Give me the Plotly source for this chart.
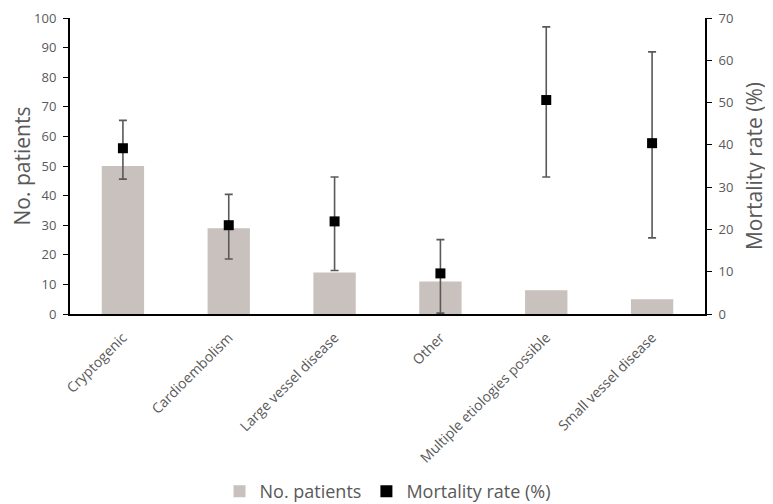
import plotly.graph_objects as go

categories = ["Cryptogenic", "Cardioembolism", "Large vessel disease", "Other",
              "Multiple etiologies possible", "Small vessel disease"]
patients = [50, 29, 14, 11, 8, 5]
mortality = [39.2, 21.0, 21.9, 9.6, 50.6, 40.4]
ci_upper = [45.8, 28.3, 32.4, 17.6, 67.9, 62.0]
ci_lower = [31.9, 13.0, 10.3, 0.2, 32.4, 18.0]

err_plus = [u - m for u, m in zip(ci_upper, mortality)]
err_minus = [m - l for m, l in zip(mortality, ci_lower)]

fig = go.Figure()
fig.add_trace(go.Bar(
    x=categories, y=patients, name="No. patients",
    marker=dict(color="#c9c1bd", line=dict(width=0)),
    width=0.4, yaxis="y",
))
fig.add_trace(go.Scatter(
    x=categories, y=mortality, name="Mortality rate (%)", mode="markers",
    marker=dict(symbol="square", size=10, color="#000000"),
    error_y=dict(type="data", symmetric=False, array=err_plus, arrayminus=err_minus,
                 color="#595959", thickness=1.6, width=4),
    yaxis="y2",
))

font_family = "Open Sans, Noto Sans, sans-serif"
fig.update_layout(
    width=765, height=496,
    margin=dict(l=62, r=68, t=10, b=190, autoexpand=False),
    paper_bgcolor="white", plot_bgcolor="white",
    font=dict(family=font_family, color="#595959"),
    showlegend=True,
    legend=dict(orientation="h", x=0.5, xanchor="center", y=-0.6, yanchor="middle",
                font=dict(size=18, color="#595959"), itemsizing="constant"),
    xaxis=dict(showline=True, linecolor="#000000", linewidth=2, ticks="",
               tickangle=-45, tickfont=dict(size=14, color="#595959"),
               showgrid=False, zeroline=False, automargin=False,
               ticklabelstandoff=8),
    yaxis=dict(range=[0, 100], dtick=10, showline=True, linecolor="#000000", linewidth=2,
               ticks="outside", ticklen=5, tickcolor="#000000", showgrid=False, zeroline=False,
               tickfont=dict(size=13, color="#595959"), automargin=False,
               ticklabeloverflow="allow", ticklabelstandoff=4,
               title=dict(text="No. patients", font=dict(size=21, color="#595959"), standoff=3)),
    yaxis2=dict(range=[0, 70], dtick=10, overlaying="y", side="right", showline=True,
                linecolor="#000000", linewidth=2, ticks="outside", ticklen=5, tickcolor="#000000",
                showgrid=False, zeroline=False, tickfont=dict(size=13, color="#595959"),
                automargin=False, ticklabeloverflow="allow", ticklabelstandoff=4,
                title=dict(text="Mortality rate (%)", font=dict(size=21, color="#595959"), standoff=15)),
)

fig.write_html("out.html")
